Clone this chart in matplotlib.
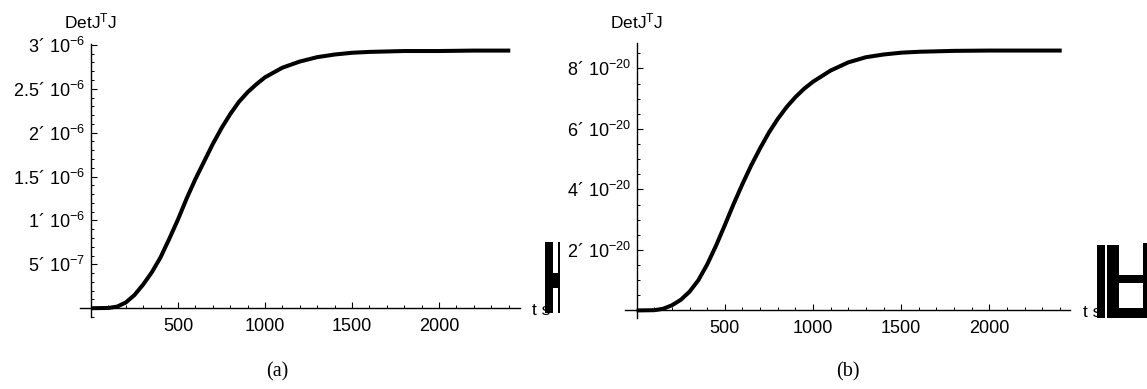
import numpy as np
import matplotlib
matplotlib.use("Agg")
import matplotlib.pyplot as plt
from matplotlib.patches import Rectangle
from matplotlib.ticker import FixedLocator, MultipleLocator, NullFormatter
import matplotlib.transforms as mtransforms

plt.rcParams["font.family"] = ["Liberation Sans", "DejaVu Sans"]
plt.rcParams["mathtext.fontset"] = "custom"
plt.rcParams["mathtext.rm"] = "Liberation Sans"
plt.rcParams["mathtext.default"] = "regular"

# --- data ---
t = [0, 100, 150, 200, 250, 300, 350, 400, 450, 500, 550, 600, 650, 700, 750,
     800, 850, 900, 950, 1000, 1100, 1200, 1300, 1400, 1500, 1600, 1800, 2000,
     2200, 2410]

# panel (a), units of 1e-6
det_a = [0, 0.003, 0.018, 0.065, 0.15, 0.27, 0.41, 0.58, 0.79, 1.01, 1.25, 1.47,
         1.67, 1.87, 2.05, 2.21, 2.35, 2.46, 2.55, 2.63, 2.74, 2.81, 2.86, 2.89,
         2.91, 2.92, 2.93, 2.93, 2.935, 2.935]

# panel (b), units of 1e-20
det_b = [0, 0.008, 0.055, 0.17, 0.35, 0.62, 1.00, 1.52, 2.14, 2.82, 3.52, 4.18,
         4.80, 5.36, 5.88, 6.33, 6.72, 7.05, 7.33, 7.56, 7.93, 8.20, 8.37, 8.46,
         8.52, 8.55, 8.58, 8.59, 8.59, 8.59]

x_ticks = [500, 1000, 1500, 2000]
x_labels = ["500", "1000", "1500", "2000"]

a_yticks = [5e-7, 1e-6, 1.5e-6, 2e-6, 2.5e-6, 3e-6]
a_ylabels = ["5´ 10$^{-7}$", "1´ 10$^{-6}$", "1.5´ 10$^{-6}$", "2´ 10$^{-6}$",
             "2.5´ 10$^{-6}$", "3´ 10$^{-6}$"]

b_yticks = [2e-20, 4e-20, 6e-20, 8e-20]
b_ylabels = ["2´ 10$^{-20}$", "4´ 10$^{-20}$", "6´ 10$^{-20}$", "8´ 10$^{-20}$"]

W, H = 1147, 389
fig = plt.figure(figsize=(W / 100, H / 100), dpi=100)


def px_axes(l, r, top, bot):
    return fig.add_axes([l / W, 1 - bot / H, (r - l) / W, (bot - top) / H])


def style(ax, xlim, ylim, yticks, ylabels, yminor):
    ax.set_xlim(*xlim)
    ax.set_ylim(*ylim)
    for s in ("top", "right"):
        ax.spines[s].set_visible(False)
    ax.spines["left"].set_position(("data", 0))
    ax.spines["bottom"].set_position(("data", 0))
    for s in ("left", "bottom"):
        ax.spines[s].set_linewidth(1.0)
    ax.xaxis.set_major_locator(FixedLocator(x_ticks))
    ax.set_xticklabels(x_labels)
    ax.xaxis.set_minor_locator(MultipleLocator(100))
    ax.yaxis.set_major_locator(FixedLocator(yticks))
    ax.set_yticklabels(ylabels)
    ax.yaxis.set_minor_locator(MultipleLocator(yminor))
    ax.yaxis.set_minor_formatter(NullFormatter())
    ax.tick_params(which="major", direction="in", length=4, width=0.8,
                   labelsize=13)
    ax.tick_params(which="minor", direction="in", length=2.2, width=0.7)
    ax.tick_params(axis="x", which="major", pad=7)
    ax.tick_params(axis="y", which="major", pad=4)


def label_top(ax, ypx):
    tr = mtransforms.blended_transform_factory(ax.transData, fig.transFigure)
    ax.text(0, 1 - ypx / H, "DetJ$^{T}$J", transform=tr, ha="center",
            va="baseline", fontsize=12.5)


def rects(boxes):
    for (l, r, top, bot) in boxes:
        fig.patches.append(Rectangle((l / W, 1 - bot / H), (r - l) / W,
                                     (bot - top) / H, transform=fig.transFigure,
                                     facecolor="black", edgecolor="none"))


# (a)
ax1 = px_axes(80, 520, 44, 317)
ax1.plot(t, np.array(det_a) * 1e-6, color="black", lw=2.9,
         solid_capstyle="butt", solid_joinstyle="round")
style(ax1, (-63, 2466), (-0.1e-6, 3.01e-6), a_yticks, a_ylabels, 1e-7)
label_top(ax1, 28)
fig.text(532 / W, 1 - 315 / H, "t s", fontsize=12.5, va="baseline")
rects([(545, 553.3, 241.7, 313.3), (553.3, 557.7, 273, 288),
       (557.7, 560, 241.7, 313.3)])
fig.text(277 / W, 1 - 372 / H, "(a)", family="Liberation Serif",
         fontsize=14.5, ha="center", va="center")

# (b)
ax2 = px_axes(625, 1070, 43, 318)
ax2.plot(t, np.array(det_b) * 1e-20, color="black", lw=2.9,
         solid_capstyle="butt", solid_joinstyle="round")
style(ax2, (-66, 2457), (-0.25e-20, 8.84e-20), b_yticks, b_ylabels, 0.5e-20)
label_top(ax2, 28)
fig.text(1083 / W, 1 - 317 / H, "t s", fontsize=12.5, va="baseline")
rects([(1096.7, 1105, 245, 318), (1107.3, 1119.3, 245, 318),
       (1143, 1147, 243, 318), (1119, 1147, 275, 283),
       (1119, 1147, 308, 318)])
fig.text(848 / W, 1 - 372 / H, "(b)", family="Liberation Serif",
         fontsize=14.5, ha="center", va="center")

fig.savefig("out.png", dpi=100)
